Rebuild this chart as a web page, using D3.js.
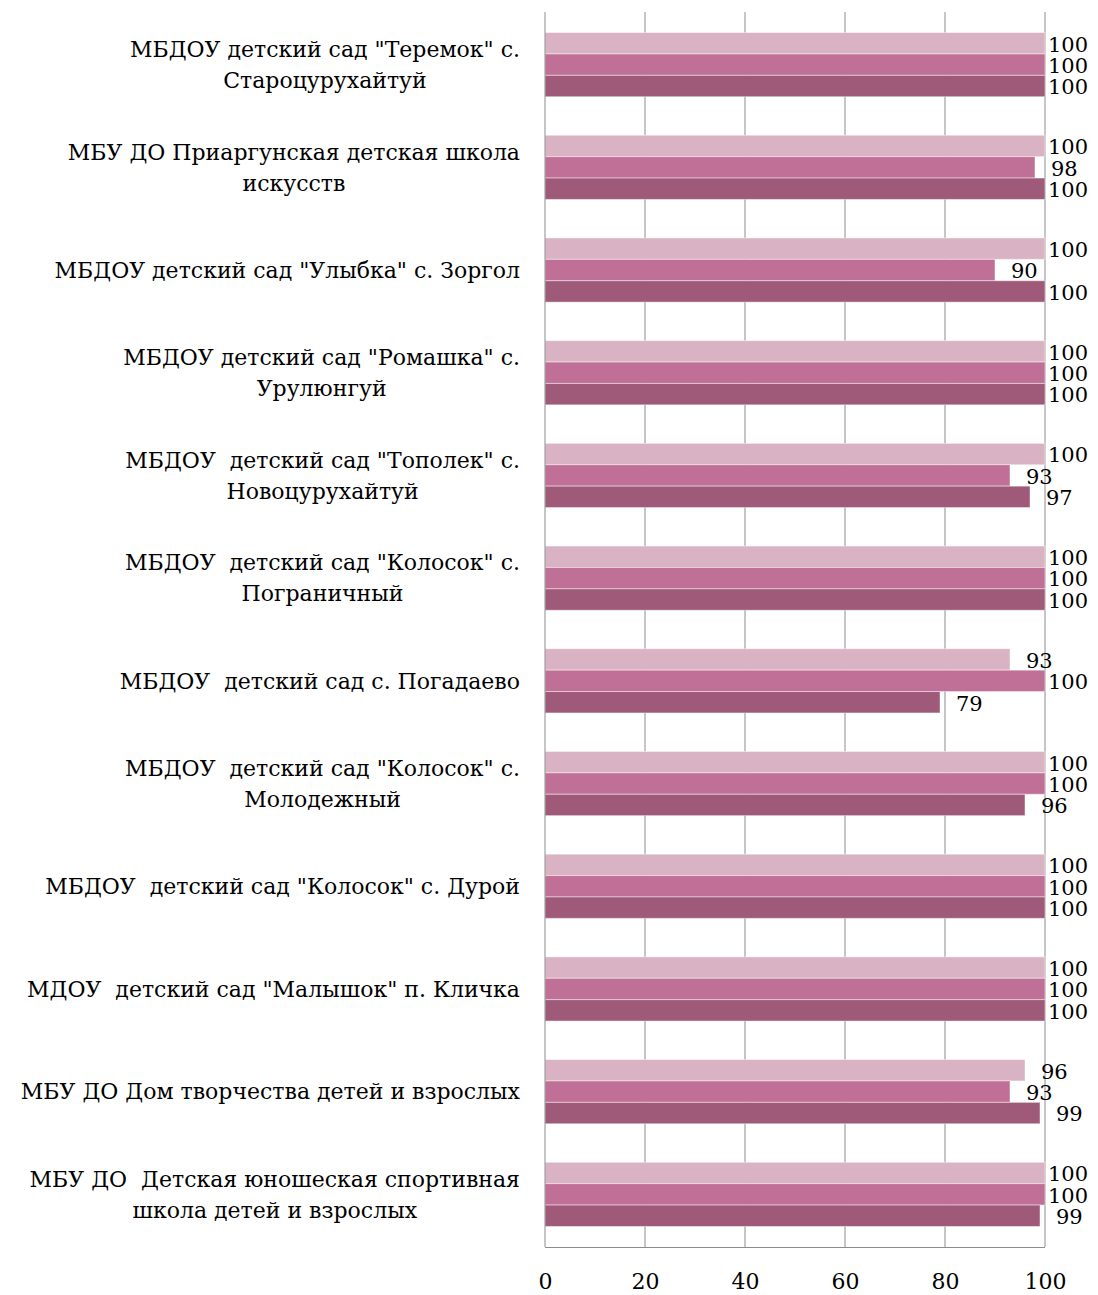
<!DOCTYPE html>
<html>
<head>
  <script src="https://d3js.org/d3.v7.min.js"></script>
  <style>
    body { margin: 0; background: #fff; }
    text { font-family: "DejaVu Serif", serif; fill: #000; }
    .grid line { stroke: #8c8c8c; stroke-width: 1; }
    .axis path, .axis line { stroke: #8c8c8c; }
  </style>
</head>
<body>
  <div id="chart"></div>
  <script>
    // categories, top to bottom (each entry = lines of the label)
    var categories = [
      ["МБДОУ детский сад \"Теремок\" с.", "Староцурухайтуй"],
      ["МБУ ДО Приаргунская детская школа", "искусств"],
      ["МБДОУ детский сад \"Улыбка\" с. Зоргол"],
      ["МБДОУ детский сад \"Ромашка\" с.", "Урулюнгуй"],
      ["МБДОУ  детский сад \"Тополек\" с.", "Новоцурухайтуй"],
      ["МБДОУ  детский сад \"Колосок\" с.", "Пограничный"],
      ["МБДОУ  детский сад с. Погадаево"],
      ["МБДОУ  детский сад \"Колосок\" с.", "Молодежный"],
      ["МБДОУ  детский сад \"Колосок\" с. Дурой"],
      ["МДОУ  детский сад \"Малышок\" п. Кличка"],
      ["МБУ ДО Дом творчества детей и взрослых"],
      ["МБУ ДО  Детская юношеская спортивная", "школа детей и взрослых"]
    ];
    // three series, drawn top (light) to bottom (dark) inside each group
    var seriesLight  = [100, 100, 100, 100, 100, 100, 93, 100, 100, 100, 96, 100];
    var seriesMedium = [100, 98, 90, 100, 93, 100, 100, 100, 100, 100, 93, 100];
    var seriesDark   = [100, 100, 100, 100, 97, 100, 79, 96, 100, 100, 99, 99];
    var seriesColors = ["#d9b2c3", "#c07096", "#9f5a79"];
    var xTicks = [0, 20, 40, 60, 80, 100];

    var w = 1098, h = 1295;
    var plotLeft = 545, plotRight = 1045, plotTop = 12, plotBottom = 1247;

    var svg = d3.select("#chart").append("svg")
      .attr("width", w).attr("height", h);

    var xScale = d3.scaleLinear().domain([0, 100]).range([plotLeft, plotRight]);
    var yScale = d3.scaleBand().domain(d3.range(categories.length))
      .range([plotTop, plotBottom]).paddingInner(0.375).paddingOuter(0.2);
    var ySub = d3.scaleBand().domain([0, 1, 2]).range([0, yScale.bandwidth()]);

    // vertical gridlines
    svg.append("g").attr("class", "grid")
      .selectAll("line").data(xTicks.slice(1)).enter().append("line")
      .attr("x1", d => xScale(d)).attr("x2", d => xScale(d))
      .attr("y1", plotTop).attr("y2", plotBottom);

    var series = [seriesLight, seriesMedium, seriesDark];
    var rows = [];
    categories.forEach((c, i) => {
      series.forEach((s, j) => rows.push({ cat: i, s: j, v: s[i] }));
    });

    svg.append("g").selectAll("rect").data(rows).enter().append("rect")
      .attr("x", xScale(0))
      .attr("y", d => yScale(d.cat) + ySub(d.s))
      .attr("width", d => xScale(d.v) - xScale(0))
      .attr("height", ySub.bandwidth())
      .attr("fill", d => seriesColors[d.s])
      .attr("stroke", "#ffffff")
      .attr("stroke-opacity", 0.45)
      .attr("stroke-width", 1);

    // value labels
    svg.append("g").selectAll("text").data(rows).enter().append("text")
      .attr("x", d => xScale(d.v) + (d.v >= 100 ? 3 : 16))
      .attr("y", d => yScale(d.cat) + ySub(d.s) + ySub.bandwidth() / 2 + 1)
      .attr("dy", "0.35em")
      .style("font-size", "21px")
      .text(d => d.v);

    // axes
    var xAxis = d3.axisBottom(xScale).tickValues(xTicks).tickSize(0).tickPadding(26);
    var xg = svg.append("g").attr("class", "axis")
      .attr("transform", `translate(0,${plotBottom})`).call(xAxis);
    xg.selectAll("text").style("font-size", "22px").attr("font-family", null);
    xg.select(".domain").attr("d", `M${plotLeft},0.5H${plotRight}`);

    svg.append("line")
      .attr("x1", plotLeft).attr("x2", plotLeft).attr("y1", plotTop).attr("y2", plotBottom)
      .attr("stroke", "#8c8c8c");

    // category labels: block right aligned, lines centered inside block
    var labelRight = 520, lineH = 31;
    categories.forEach((lines, i) => {
      var g = svg.append("g");
      var cy = yScale(i) + yScale.bandwidth() / 2;
      var texts = lines.map((t, k) => g.append("text")
        .style("font-size", "22px")
        .style("white-space", "pre")
        .attr("text-anchor", "middle")
        .attr("y", cy + (k - (lines.length - 1) / 2) * lineH)
        .attr("dy", "0.35em")
        .text(t));
      var maxW = d3.max(texts, t => t.node().getComputedTextLength());
      texts.forEach(t => t.attr("x", labelRight - maxW / 2));
    });
  </script>
</body>
</html>
